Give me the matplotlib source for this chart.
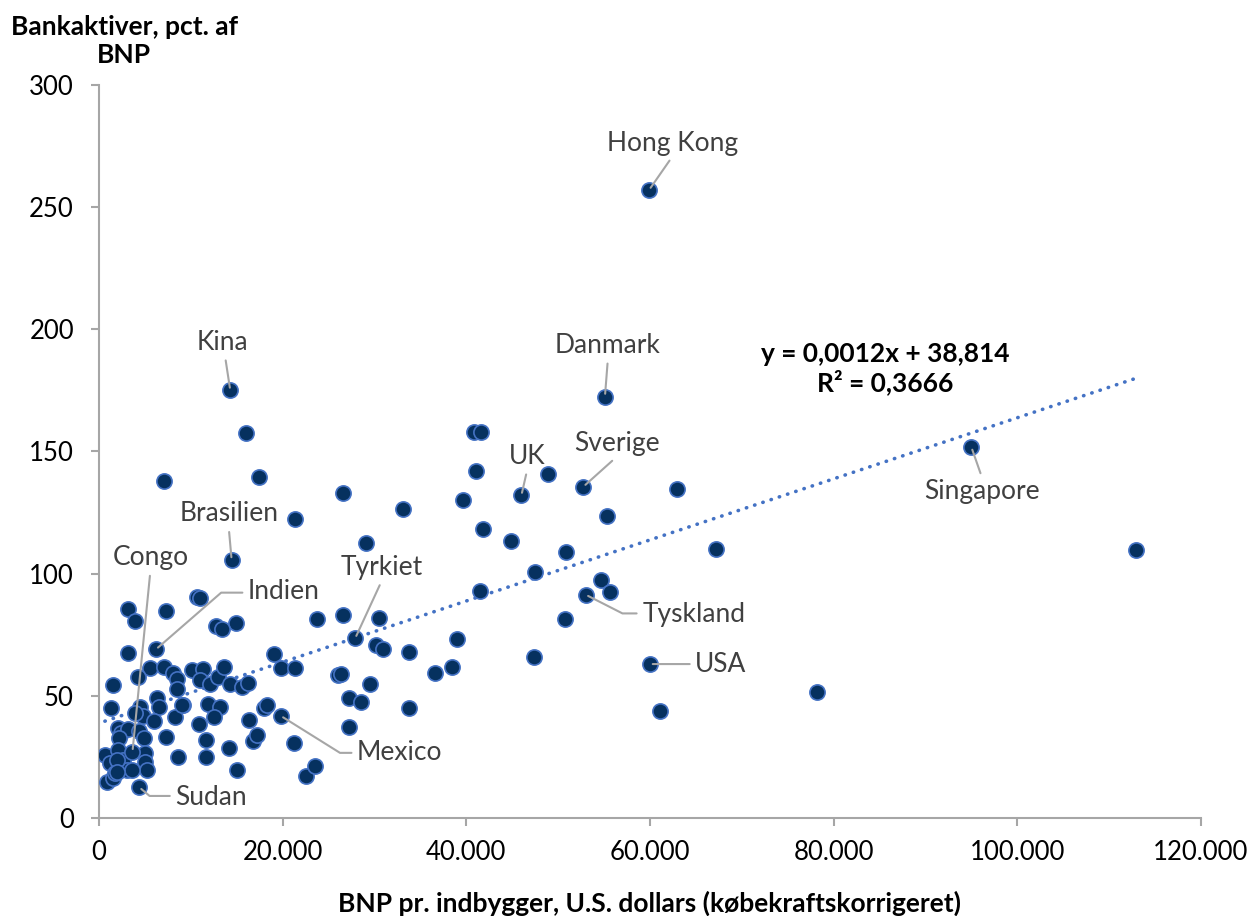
import numpy as np
import matplotlib.pyplot as plt
from matplotlib.ticker import FuncFormatter, MultipleLocator

plt.rcParams['font.family'] = ['Lato', 'DejaVu Sans']

# labelled countries: name, GDP per capita (PPP, USD), bank assets (% of GDP)
label_names = ['Hong Kong', 'Kina', 'Danmark', 'Singapore', 'UK', 'Sverige', 'Brasilien',
               'Congo', 'Indien', 'Tyrkiet', 'Mexico', 'Tyskland', 'USA', 'Sudan']
label_gdp = [59900, 14300, 55100, 95000, 46000, 52750, 14450,
             3650, 6200, 27900, 19800, 53000, 60000, 4380]
label_bank = [257.0, 175.0, 172.5, 151.8, 132.0, 135.6, 105.6,
              27.1, 69.0, 73.5, 41.8, 91.4, 63.0, 12.6]

# remaining countries
other_gdp = [112950, 78200, 61050, 16000, 17430, 7080, 21350, 26580, 29080, 33110,
             40880, 41610, 41070, 48940, 62930, 39620, 55370, 41830, 44850, 50870,
             67140, 47490, 54650, 55660, 41500, 50760, 39000, 38450, 36630, 47390,
             33800, 33800, 30170, 30940, 30500, 26610, 23710, 14920, 12740, 13430,
             10640, 11000, 3130, 7330, 3920, 3130, 19100, 19830, 21350, 26030,
             26400, 29520, 27270, 28500, 27230, 10100, 11300, 11000, 12090, 13000,
             13650, 14270, 15540, 16260, 9120, 11870, 13210, 12560, 10930, 16300,
             18010, 18270, 11650, 14160, 16770, 17250, 21270, 11650, 15000, 22510,
             23530, 8600, 5560, 7080, 8030, 8530, 8460, 1490, 4210, 1270,
             4470, 4830, 6280, 6570, 3920, 5990, 8280, 9000, 2100, 2360,
             3190, 4390, 4900, 7300, 2210, 650, 1200, 840, 1560, 2100,
             2650, 2290, 3020, 5010, 5010, 5260, 3630, 1740, 1930, 1930]
other_bank = [109.7, 51.6, 43.7, 157.6, 139.6, 137.9, 122.4, 133.0, 112.6, 126.5,
              157.9, 157.9, 141.9, 140.9, 134.7, 130.2, 123.6, 118.4, 113.2, 108.9,
              110.1, 100.8, 97.4, 92.4, 93.0, 81.3, 73.1, 61.7, 59.3, 65.9,
              68.0, 45.2, 70.7, 69.1, 82.0, 83.1, 81.4, 79.9, 78.6, 77.2,
              90.6, 89.9, 85.7, 84.7, 80.6, 67.4, 67.3, 61.3, 61.4, 58.5,
              58.8, 54.8, 49.1, 47.3, 37.2, 60.6, 60.9, 56.5, 54.7, 57.6,
              61.7, 54.8, 53.7, 55.4, 46.2, 46.8, 45.6, 41.5, 38.5, 40.1,
              45.1, 46.2, 32.0, 28.5, 31.5, 34.0, 30.6, 24.8, 19.6, 17.3,
              21.4, 25.1, 61.5, 61.9, 59.2, 56.8, 52.7, 54.4, 57.8, 44.9,
              45.6, 41.7, 49.0, 45.6, 42.9, 39.7, 41.5, 46.4, 36.7, 34.7,
              36.3, 35.6, 32.6, 33.3, 32.6, 25.8, 22.4, 14.9, 16.2, 27.8,
              23.7, 19.6, 19.6, 26.5, 23.0, 19.6, 19.6, 18.3, 23.7, 19.0]

trend_slope = 0.00125
trend_intercept = 38.814
trend_text = 'y = 0,0012x + 38,814\nR² = 0,3666'

# label placement: offset of text centre from point (pixels), leader start on text box,
# and leader connection style
label_style = {
    'Hong Kong': ((24, 47), (0.5, 0.0), 'arc3'),
    'Kina': ((-8, 48), (0.55, 0.0), 'arc3'),
    'Danmark': ((3, 51), (0.5, 0.0), 'arc3'),
    'Singapore': ((11, -44), (0.5, 1.0), 'arc3'),
    'UK': ((6, 39), (0.5, 0.0), 'arc3'),
    'Sverige': ((34, 43), (0.5, 0.0), 'arc3'),
    'Brasilien': ((-3, 46), (0.5, 0.0), 'arc3'),
    'Congo': ((18, 194), (0.5, 0.0), 'arc3'),
    'Indien': ((128, 58), (0.0, 0.45), 'angle,angleA=0,angleB=41,rad=0'),
    'Tyrkiet': ((27, 71), (0.5, 0.0), 'arc3'),
    'Mexico': ((119, -37), (0.0, 0.5), 'angle,angleA=0,angleB=148,rad=0'),
    'Tyskland': ((108, -20), (0.0, 0.55), 'angle,angleA=0,angleB=153,rad=0'),
    'USA': ((71, 0), (0.0, 0.5), 'arc3'),
    'Sudan': ((72, -10), (0.0, 0.55), 'angle,angleA=0,angleB=140,rad=0'),
}

fig = plt.figure(figsize=(12.54, 9.16), dpi=100)
ax = fig.add_axes([0.0789, 0.107, 0.8788, 0.8002])

all_gdp = np.array(other_gdp + label_gdp)
all_bank = np.array(other_bank + label_bank)

ax.scatter(all_gdp, all_bank, s=120, facecolor='#06315f', edgecolor='#4472c4',
           linewidth=1.2, zorder=3)

tx = np.array([all_gdp.min(), all_gdp.max()])
ax.plot(tx, trend_intercept + trend_slope * tx, color='#4472c4', lw=2.6,
        linestyle=(0, (0.1, 2.3)), dash_capstyle='round', zorder=2)

for name, x, y in zip(label_names, label_gdp, label_bank):
    off, rel, conn = label_style[name]
    ax.annotate(name, (x, y), xytext=off, textcoords='offset pixels',
                ha='center', va='center', fontsize=19, color='#404040',
                arrowprops=dict(arrowstyle='-', color='#a6a6a6', lw=1.5,
                                relpos=rel, shrinkA=2, shrinkB=2,
                                connectionstyle=conn),
                zorder=4)

ax.set_xlim(0, 120000)
ax.set_ylim(0, 300)
ax.xaxis.set_major_locator(MultipleLocator(20000))
ax.yaxis.set_major_locator(MultipleLocator(50))
ax.xaxis.set_major_formatter(FuncFormatter(lambda v, p: f'{v:,.0f}'.replace(',', '.')))

for s in ['top', 'right']:
    ax.spines[s].set_visible(False)
for s in ['left', 'bottom']:
    ax.spines[s].set_color('#a6a6a6')
    ax.spines[s].set_linewidth(1.5)
ax.tick_params(axis='both', direction='out', length=6, width=1.5, color='#a6a6a6',
               labelsize=18.5, labelcolor='black')
ax.tick_params(axis='y', pad=12)
ax.tick_params(axis='x', pad=10)

fig.text(0.0989, 0.9552, 'Bankaktiver, pct. af\nBNP', ha='center', va='center',
         fontsize=19, fontweight='bold', linespacing=1.2)
fig.text(0.518, 0.0044, 'BNP pr. indbygger, U.S. dollars (købekraftskorrigeret)',
         ha='center', va='baseline', fontsize=19, fontweight='bold')
fig.text(0.7057, 0.5972, trend_text, ha='center', va='center',
         fontsize=19, fontweight='bold', linespacing=1.15)

fig.savefig('out.png', dpi=100)
